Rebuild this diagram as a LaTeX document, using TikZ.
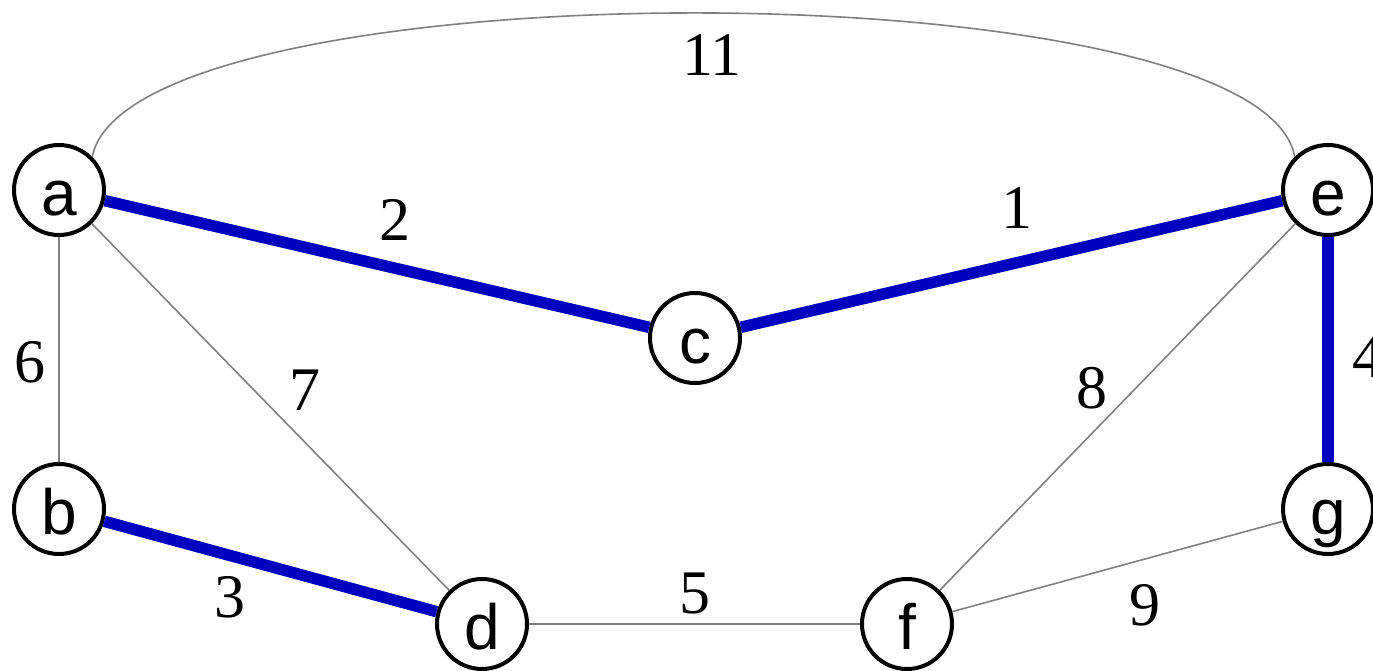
\documentclass[tikz,border=0pt]{standalone}
\usepackage{fontspec}
\setmainfont{Liberation Serif}
\newfontfamily\nodefont{Liberation Sans}
\begin{document}
\begin{tikzpicture}[x=1pt,y=-1pt,
  vert/.style={circle,draw=black,line width=4pt,fill=white,minimum size=90pt,inner sep=0pt,
    font=\nodefont\fontsize{64}{64}\selectfont,text height=50pt,text depth=0pt},
  tree/.style={draw={rgb,255:red,0;green,0;blue,192},line width=11.5pt},
  other/.style={draw={rgb,255:red,128;green,128;blue,128},line width=1.6pt},
  wt/.style={font=\fontsize{62}{62}\selectfont,inner sep=0pt}]
\useasboundingbox (0,0) rectangle (1373,671);
\node[vert] (a) at (59,190) {a};
\node[vert] (b) at (59,509) {b};
\node[vert] (c) at (695,338) {c};
\node[vert] (d) at (482,624) {d};
\node[vert] (e) at (1328,190) {e};
\node[vert] (f) at (907,624) {f};
\node[vert] (g) at (1328,509) {g};
\path[other] (a.45) .. controls (130,-35) and (1260,-35) .. (e.135);
\path[other] (a) -- (b);
\path[other] (a) -- (d);
\path[other] (d) -- (f);
\path[other] (e) -- (f);
\path[other] (f) -- (g);
\path[tree] (a) -- (c);
\path[tree] (c) -- (e);
\path[tree] (b) -- (d);
\path[tree] (e) -- (g);
\node[wt] (w11) at (712,55) {11};
\node[wt] (w2) at (395,220) {2};
\node[wt] (w1) at (1017,208) {1};
\node[wt] (w6) at (30,362) {6};
\node[wt] (w7) at (305,390) {7};
\node[wt] (w8) at (1092,388) {8};
\node[wt] (w4) at (1368,357) {4};
\node[wt] (w3) at (230,597) {3};
\node[wt] (w5) at (695,593) {5};
\node[wt] (w9) at (1145,605) {9};
\end{tikzpicture}
\end{document}
